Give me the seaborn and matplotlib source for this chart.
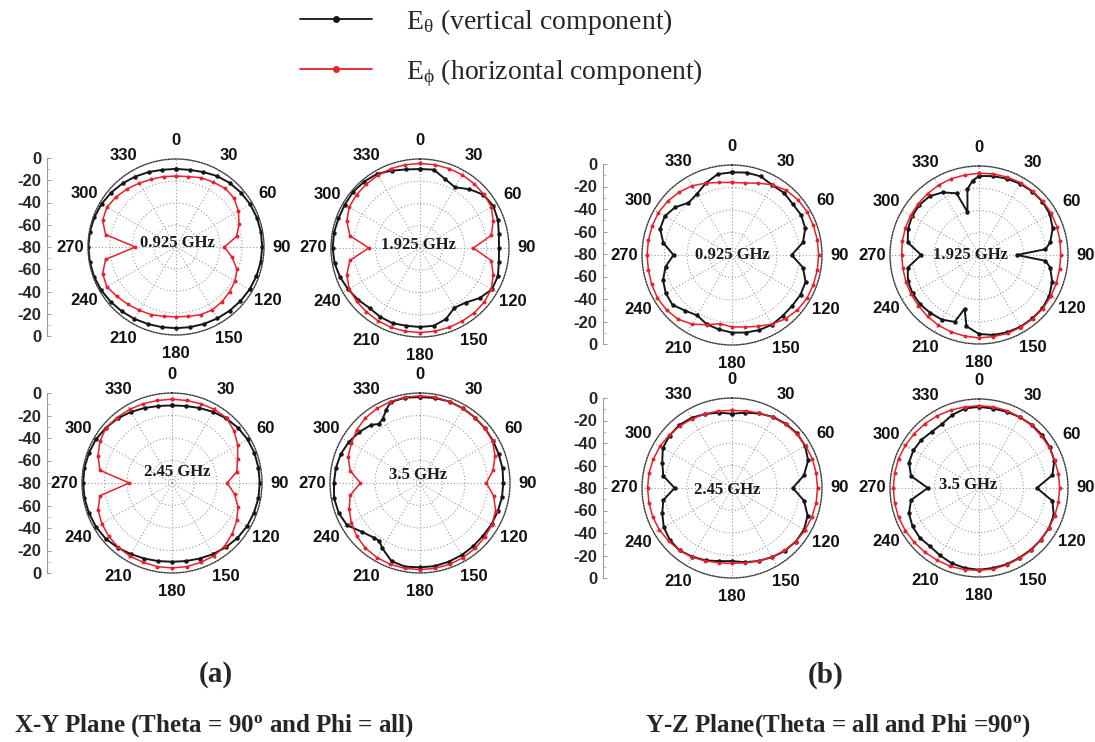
import numpy as np
import pandas as pd
import matplotlib
matplotlib.use("Agg")
import matplotlib.pyplot as plt
from matplotlib.lines import Line2D
import seaborn as sns

# ---------------------------------------------------------------------------
# Measured radiation patterns (dB, normalised), angle in degrees
# ---------------------------------------------------------------------------
ang10 = list(range(0, 360, 10))

# X-Y plane (Theta = 90, Phi = all)
xy_0925_etheta = [-9, -8.8, -7.5, -5.5, -4, -3, -2.2, -1.8, -1.6, -1.6, -1.8, -2.2,
                  -2.8, -3.5, -4.3, -5, -5.6, -6, -6.2, -6, -5.5, -4.5, -3.5, -2.5,
                  -1.5, -0.8, -0.5, -0.3, -0.5, -1, -1.8, -3, -4.5, -6, -7.5, -8.7]
xy_0925_ephi = [-15.5, -15, -13, -12, -10.5, -11, -14.5, -19, -24, -36, -28.5, -21,
                -18, -16.5, -15, -14, -14.5, -16, -16.5, -16, -14.5, -13.5, -12, -10,
                -7.5, -9, -15, -43, -15, -9, -7.5, -9, -11, -13, -14.5, -15]

xy_1925_etheta = [-9, -8.5, -14, -17, -11, -5.5, -4, -5.5, -8, -9, -8, -5.5,
                  -5.5, -10, -16, -18, -12, -9, -9, -9, -8, -8.5, -9.5, -7.5,
                  -5.5, -3.5, -2, -1.5, -1.5, -2, -2, -1.5, -2, -3, -6, -8.3]
xy_1925_ephi = [-4, -4, -4, -4, -4.5, -5, -6, -10, -15, -32, -15, -10,
                -6, -4.5, -4, -4, -4, -4, -4, -4, -4, -4.5, -5, -5.5,
                -6.5, -10, -16, -34, -16, -10, -6.5, -5.5, -5, -4.5, -4, -4]

xy_245_etheta = [-11, -10.5, -9, -7, -5, -3.5, -2.5, -2, -2, -2, -2, -2.5,
                 -3, -4, -5.5, -7, -8.5, -9.5, -10, -9.5, -8.5, -7, -5, -3,
                 -2, -1.5, -1, -1, -1, -1.5, -2, -3.5, -5, -7, -9, -10.5]
xy_245_ephi = [-5.5, -5.5, -5, -4.5, -4.5, -8, -12.5, -18, -21.5, -31, -23.5, -17.5,
               -13.5, -10, -7, -5.3, -5, -4.5, -4.5, -4.5, -5, -5, -5.5, -6.5,
               -8, -10, -15, -42, -15, -10, -6, -3.5, -4, -4.5, -5, -5.5]

xy_35_etheta_ang = [0, 10, 20, 30, 40, 50, 60, 70, 80, 90, 100, 110, 120, 130, 140,
                    150, 160, 170, 180, 190, 200, 210, 215, 220, 230, 240, 250, 260,
                    270, 280, 290, 300, 310, 320, 325, 330, 335, 340, 350]
xy_35_etheta = [-3.6, -3.3, -3, -3.5, -4, -4.5, -5, -5.5, -5.5, -6, -6, -6.5, -6.5,
                -7, -6.5, -6, -5.5, -5, -5, -4.5, -6, -13, -17, -16.5, -12.5, -5,
                -3, -2.5, -3.5, -4, -5, -7, -9.5, -12.5, -16, -14, -8.5, -3.5, -3]
xy_35_ephi = [-2.5, -2.5, -3, -3.5, -4, -4.5, -5.5, -9, -14, -21, -13.5, -8.5,
              -6, -5, -4, -3.5, -3, -3, -3, -3, -3, -3.5, -4.5, -6.5,
              -9.5, -13, -17, -27, -17, -12, -9.5, -6.5, -4.5, -3.5, -3, -2.5]

# Y-Z plane (Theta = all, Phi = 90)
yz_0925_etheta = [-6.5, -5.6, -5.6, -8.3, -8, -9.5, -9, -10.7, -16, -27, -16, -10.4,
                  -9.6, -10, -9.6, -8.6, -9, -10, -11, -12.8, -14.5, -18, -15.4, -11,
                  -12, -14.8, -20, -28, -18, -12, -11, -14, -19.5, -17.5, -12, -7]
yz_0925_ephi = [-15.5, -15, -12, -8, -5, -3.5, -3, -3, -3, -3, -3, -3,
                -3, -4, -6, -9, -12.5, -15, -16, -18, -14, -9, -5.5, -4,
                -3.5, -4, -4.5, -4.5, -4.5, -4.5, -4.5, -5.5, -7, -9, -12, -14.5]

yz_1925_etheta_ang = [0, 10, 20, 30, 40, 50, 60, 70, 80, 85, 90, 95, 100, 110, 120,
                      130, 140, 150, 160, 170, 180, 190, 195, 200, 210, 220, 230,
                      240, 250, 260, 270, 280, 290, 300, 310, 320, 330, 340, 345,
                      350, 355]
yz_1925_etheta = [-9, -8, -7, -6, -5.5, -5.5, -6.5, -9.5, -15, -20, -46, -20, -15,
                  -10, -7, -5.5, -5.5, -5.5, -6, -7, -9, -15, -30, -16, -13, -12,
                  -11, -11, -12, -15, -28, -15, -12, -10.5, -10, -11, -15, -21,
                  -40, -20, -13]
yz_1925_ephi = [-6.5, -6, -5.5, -5, -5, -5, -5, -5.5, -6, -6.5, -6.5, -6,
                -5.5, -5, -5, -5, -5, -5.5, -5.5, -6, -6.5, -7, -8, -9,
                -9.5, -10, -10.5, -10.5, -10, -9.5, -9, -8.5, -8, -7.5, -7, -7]

yz_245_etheta = [-14, -12, -9.5, -7, -5.5, -4.5, -5, -8, -15, -26, -15, -8.5,
                 -6, -6, -7, -9, -11, -13, -15, -14, -11.5, -9.5, -7.5, -8,
                 -10, -14, -18, -29, -18, -14, -9, -7.5, -7, -8, -10, -12]
yz_245_ephi = [-11, -10.5, -9, -7.5, -6, -5, -4.5, -4, -4, -4, -4, -4.5,
               -5, -6, -7.5, -9, -11, -12.5, -13, -12.5, -11, -9, -7.5, -6.5,
               -5.5, -5, -5, -5, -5, -5.5, -6, -7, -8, -9, -10, -10.5]

yz_35_etheta = [-7, -7.5, -7, -6.5, -6, -6, -6.5, -8, -13, -28, -13, -8.5,
                -7.5, -7.5, -7.5, -7.5, -7, -7, -6.5, -7, -8, -10, -11.5, -10.5,
                -11, -13, -18, -34, -18, -13, -12, -12.5, -14, -13.5, -10, -7.5]
yz_35_ephi = [-6, -6, -6, -6.5, -6.5, -7, -7, -7.5, -7.5, -7.5, -7.5, -7.5,
              -7.5, -7.5, -7, -7, -6.5, -6, -6, -5.5, -5, -5, -4.5, -4,
              -3.5, -3, -3, -3, -3, -3, -3.5, -4, -4.5, -5, -5.5, -6]

freq_labels = ["0.925 GHz", "1.925 GHz", "2.45 GHz", "3.5 GHz"]
theta_ticks = list(range(0, 360, 30))
radial_ticks = ["0", "-20", "-40", "-60", "-80", "-60", "-40", "-20", "0"]
component_names = ["E_theta", "E_phi"]

curves = [
    ("XY", "0.925 GHz", "E_theta", ang10, xy_0925_etheta),
    ("XY", "0.925 GHz", "E_phi", ang10, xy_0925_ephi),
    ("XY", "1.925 GHz", "E_theta", ang10, xy_1925_etheta),
    ("XY", "1.925 GHz", "E_phi", ang10, xy_1925_ephi),
    ("XY", "2.45 GHz", "E_theta", ang10, xy_245_etheta),
    ("XY", "2.45 GHz", "E_phi", ang10, xy_245_ephi),
    ("XY", "3.5 GHz", "E_theta", xy_35_etheta_ang, xy_35_etheta),
    ("XY", "3.5 GHz", "E_phi", ang10, xy_35_ephi),
    ("YZ", "0.925 GHz", "E_theta", ang10, yz_0925_etheta),
    ("YZ", "0.925 GHz", "E_phi", ang10, yz_0925_ephi),
    ("YZ", "1.925 GHz", "E_theta", yz_1925_etheta_ang, yz_1925_etheta),
    ("YZ", "1.925 GHz", "E_phi", ang10, yz_1925_ephi),
    ("YZ", "2.45 GHz", "E_theta", ang10, yz_245_etheta),
    ("YZ", "2.45 GHz", "E_phi", ang10, yz_245_ephi),
    ("YZ", "3.5 GHz", "E_theta", ang10, yz_35_etheta),
    ("YZ", "3.5 GHz", "E_phi", ang10, yz_35_ephi),
]

rows = []
for plane, freq, comp, ang, val in curves:
    # close each pattern by repeating the first sample at 360 deg
    for a, v in list(zip(ang, val)) + [(ang[0] + 360, val[0])]:
        rows.append({"plane": plane, "freq": freq, "comp": comp,
                     "theta": np.deg2rad(a), "db": v})
df = pd.DataFrame(rows)

# ---------------------------------------------------------------------------
# Styling
# ---------------------------------------------------------------------------
sns.set_theme(style="white")
plt.rcParams["font.family"] = ["Liberation Sans", "DejaVu Sans"]
plt.rcParams["mathtext.fontset"] = "custom"
plt.rcParams["mathtext.rm"] = "Liberation Serif"
plt.rcParams["mathtext.it"] = "Liberation Serif:italic"
plt.rcParams["mathtext.bf"] = "Liberation Serif:bold"

BLACK = "#161616"
RED = "#e8202a"
styles = {"E_theta": dict(color=BLACK, lw=1.4, ms=3.2),
          "E_phi": dict(color=RED, lw=1.1, ms=2.8)}

W, H = 1095, 742
fig = plt.figure(figsize=(W / 100, H / 100), dpi=100)
fig.patch.set_facecolor("white")


def px_box(cx, cy, r):
    return [(cx - r) / W, 1 - (cy + r) / H, 2 * r / W, 2 * r / H]


# plane, frequency, centre x/y (px), radius (px), label offset x/y (px)
layout = [
    ("XY", "0.925 GHz", 176, 247, 88, 1, -4),
    ("XY", "1.925 GHz", 420, 248, 89, -2, -3),
    ("XY", "2.45 GHz", 172, 483, 90, 5, -11),
    ("XY", "3.5 GHz", 420, 483, 90, -2, -8),
    ("YZ", "0.925 GHz", 732, 255, 90, 0, 0),
    ("YZ", "1.925 GHz", 979, 255, 89, -9, 0),
    ("YZ", "2.45 GHz", 732, 488, 90, -5, 2),
    ("YZ", "3.5 GHz", 979, 488, 89, -11, -3),
]

for plane, freq, cx, cy, r, ldx, ldy in layout:
    ax = fig.add_axes(px_box(cx, cy, r), projection="polar")
    ax.set_facecolor("white")
    ax.set_theta_zero_location("N")
    ax.set_theta_direction(-1)
    for comp in component_names:
        sub = df[(df.plane == plane) & (df.freq == freq) & (df.comp == comp)]
        st = styles[comp]
        sns.lineplot(data=sub, x="theta", y="db", ax=ax, sort=False,
                     estimator=None, color=st["color"], linewidth=st["lw"],
                     marker="o", markersize=st["ms"], markeredgewidth=0,
                     legend=False)
    ax.set_xlabel("")
    ax.set_ylabel("")
    ax.set_ylim(-80, 0)
    ax.set_yticks([-60, -40, -20])
    ax.set_yticklabels([])
    ax.set_xticks(np.deg2rad(theta_ticks))
    ax.set_xticklabels([str(t) for t in theta_ticks])
    ax.tick_params(axis="x", pad=0, labelsize=12, colors="#111111")
    for lbl in ax.get_xticklabels():
        lbl.set_fontweight("bold")
    ax.grid(True, color="#9c9c9c", linestyle=(0, (1, 2)), linewidth=0.8)
    ax.spines["polar"].set_linestyle((0, (1, 1.2)))
    ax.spines["polar"].set_color("#3a3a3a")
    ax.spines["polar"].set_linewidth(1.0)
    ax.text(0.5 + ldx / (2 * r), 0.5 - ldy / (2 * r), freq, transform=ax.transAxes,
            ha="center", va="center", fontsize=12, fontweight="bold",
            family="Liberation Serif", color="#1a1a1a", zorder=5)

# radial dB scales on the left of each row
for sx, cy, r in [(47, 247, 89), (47, 483, 90), (603, 254, 90), (603, 488, 90)]:
    rax = fig.add_axes([sx / W, 1 - (cy + r) / H, 0.0005, 2 * r / H])
    rax.set_facecolor("none")
    rax.set_ylim(-80, 80)
    rax.set_yticks([80, 60, 40, 20, 0, -20, -40, -60, -80])
    rax.set_yticklabels(radial_ticks)
    rax.set_yticks([70, 50, 30, 10, -10, -30, -50, -70], minor=True)
    rax.set_xticks([])
    for side in ["top", "bottom", "right"]:
        rax.spines[side].set_visible(False)
    rax.spines["left"].set_color("#9a9a9a")
    rax.spines["left"].set_linewidth(0.8)
    rax.tick_params(axis="y", which="major", direction="in", length=3, width=0.6,
                    color="#888888", pad=4, labelsize=12, left=True)
    rax.tick_params(axis="y", which="minor", direction="in", length=2, width=0.5,
                    color="#aaaaaa", left=True)
    for lbl in rax.get_yticklabels():
        lbl.set_fontweight("bold")

# legend
handles = [Line2D([], [], color=BLACK, lw=1.3, marker="o", ms=5, mew=0),
           Line2D([], [], color=RED, lw=1.3, marker="o", ms=5, mew=0)]
labels = [r"E$_{\mathrm{\theta}}$ (vertical component)",
          r"E$_{\mathrm{\phi}}$ (horizontal component)"]
fig.legend(handles, labels, loc="upper left", bbox_to_anchor=(300 / W, 1 - 7 / H),
           frameon=False, prop={"family": "Liberation Serif", "size": 20},
           handlelength=2.6, handletextpad=1.2, labelspacing=0.72,
           borderpad=0, borderaxespad=0)

# sub-figure captions
fig.text(216 / W, 1 - 675 / H, "(a)", ha="center", va="center", fontsize=21,
         fontweight="bold", family="Liberation Serif")
fig.text(826 / W, 1 - 675 / H, "(b)", ha="center", va="center", fontsize=21,
         fontweight="bold", family="Liberation Serif")
fig.text(14 / W, 1 - 726 / H, r"X-Y Plane (Theta = 90$^{\mathbf{o}}$ and Phi = all)",
         ha="left", va="center", fontsize=18, fontweight="bold",
         family="Liberation Serif")
fig.text(645 / W, 1 - 726 / H, r"Y-Z Plane(Theta = all and Phi =90$^{\mathbf{o}}$)",
         ha="left", va="center", fontsize=18, fontweight="bold",
         family="Liberation Serif")

fig.savefig("out.png", dpi=100, facecolor="white")
